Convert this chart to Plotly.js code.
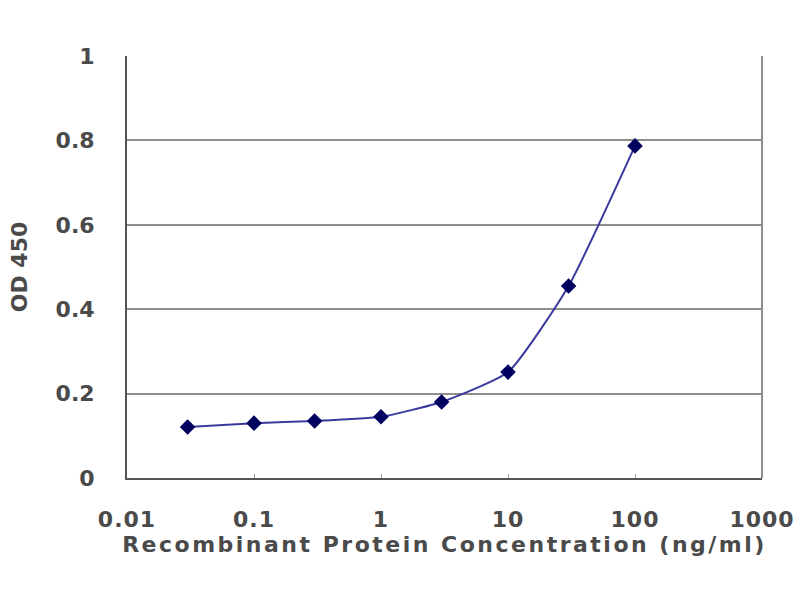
<!DOCTYPE html>
<html>
<head>
<meta charset="utf-8">
<script src="https://cdn.plot.ly/plotly-3.0.1.min.js"></script>
<style>
  html, body { margin: 0; padding: 0; background: #fff; }
  #chart { width: 800px; height: 600px; }
  /* the original axis caption is set quite loose */
  #chart .xtitle { letter-spacing: 2.5px; }
  #chart .xtick text { letter-spacing: 1px; }
</style>
</head>
<body>
<div id="chart"></div>
<script>
// concentration (ng/ml) and OD 450 readings
const concentration = [0.03, 0.1, 0.3, 1, 3, 10, 30, 100];
const od450 = [0.121, 0.130, 0.135, 0.145, 0.180, 0.251, 0.455, 0.787];

const xTickVals = [0.01, 0.1, 1, 10, 100, 1000];
const xTickText = ['0.01', '0.1', '1', '10', '100', '1000'];
const yTickVals = [0, 0.2, 0.4, 0.6, 0.8, 1];
const yTickText = ['0', '0.2', '0.4', '0.6', '0.8', '1'];

function main() {
    const textColor = '#4a4a4a';
    const textFont = { family: 'DejaVu Sans, sans-serif', size: 22, color: textColor, weight: 'bold' };

    var data = [{
        x: concentration,
        y: od450,
        type: 'scatter',
        mode: 'lines+markers',
        line: { color: '#3a3a9e', width: 2, shape: 'spline', smoothing: 0.5 },
        marker: { symbol: 'diamond', size: 12, color: '#00005e' },
        showlegend: false,
        hoverinfo: 'x+y'
    }];

    var layout = {
        width: 800,
        height: 600,
        margin: { l: 127, r: 38, t: 56, b: 122 },
        paper_bgcolor: '#ffffff',
        plot_bgcolor: '#ffffff',
        font: textFont,
        xaxis: {
            type: 'log',
            range: [-2, 3],
            tickvals: xTickVals,
            ticktext: xTickText,
            tickfont: textFont,
            showgrid: false,
            zeroline: false,
            showline: true,
            linecolor: '#555555',
            linewidth: 2,
            ticks: 'inside',
            ticklen: 4,
            tickcolor: '#999999',
            ticklabelstandoff: 21,
            title: {
                text: 'Recombinant Protein Concentration (ng/ml)',
                font: textFont,
                standoff: 0
            }
        },
        yaxis: {
            range: [0, 1],
            tickvals: yTickVals,
            ticktext: yTickText,
            tickfont: textFont,
            showgrid: true,
            gridcolor: '#8e8e8e',
            gridwidth: 2,
            zeroline: false,
            showline: true,
            linecolor: '#555555',
            linewidth: 2,
            ticks: '',
            ticklabelstandoff: 26,
            title: {
                text: 'OD 450',
                font: textFont,
                standoff: 22
            }
        },
        shapes: [{
            type: 'line',
            xref: 'paper', yref: 'paper',
            x0: 1, x1: 1, y0: 0, y1: 1,
            line: { color: '#8e8e8e', width: 2 }
        }]
    };

    Plotly.newPlot('chart', data, layout, { displayModeBar: false, staticPlot: true });
}
main();
</script>
</body>
</html>
